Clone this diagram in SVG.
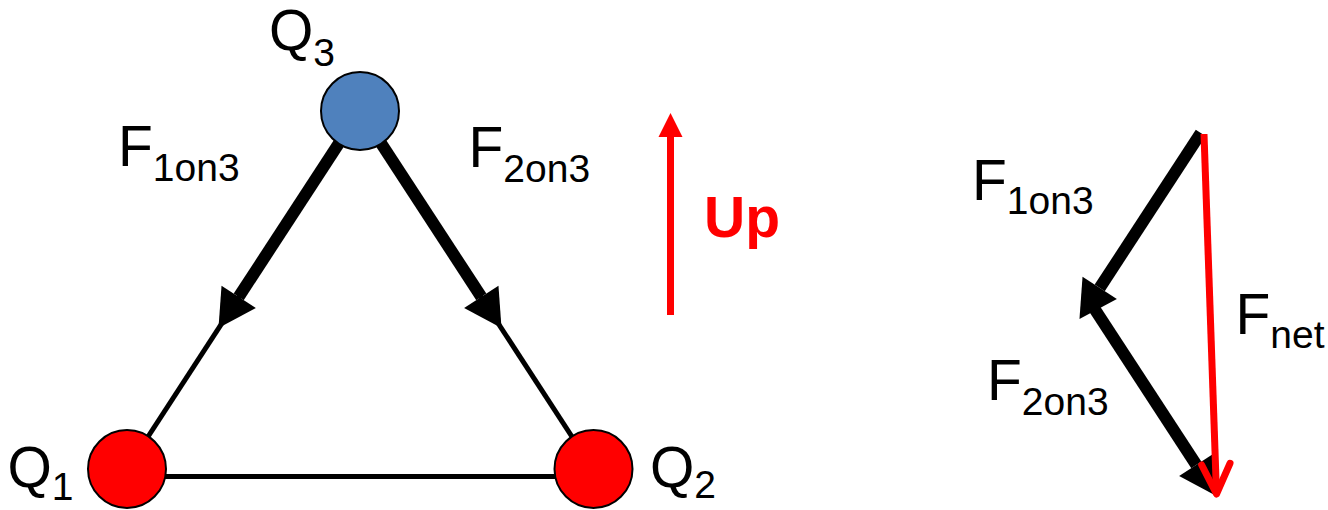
<svg xmlns="http://www.w3.org/2000/svg" width="1328" height="510" viewBox="0 0 1328 510">
<style>
text{font-family:"Liberation Sans",Arial,sans-serif;font-size:57px;fill:#000}
.sub{font-size:39px}
.up{font-weight:bold;fill:#FF0000}
.thin{stroke:#000;stroke-width:5;fill:none}
.thick{stroke:#000;stroke-width:12;fill:none;marker-end:url(#head)}
.red{stroke:#FF0000;stroke-width:7;fill:none}
.chg{stroke:#000;stroke-width:2}
</style>
<defs>
<marker id="head" markerUnits="userSpaceOnUse" viewBox="0 0 37 41" refX="0" refY="20.5" markerWidth="37" markerHeight="41" orient="auto" overflow="visible">
<path d="M0,0 L37,20.5 L0,41 Z" fill="#000"/>
</marker>
<marker id="upHead" markerUnits="userSpaceOnUse" viewBox="0 0 24 24" refX="0" refY="12" markerWidth="24" markerHeight="24" orient="auto" overflow="visible">
<path d="M0,0 L24,12 L0,24 Z" fill="#FF0000"/>
</marker>
</defs>
<g id="connectors">
<line class="thin" x1="360" y1="111" x2="127" y2="469"/>
<line class="thin" x1="360" y1="111" x2="593" y2="469"/>
<line class="thin" x1="127" y1="476.5" x2="593" y2="476.5"/>
<line class="thick" x1="360" y1="111" x2="238.7" y2="296.9"/>
<line class="thick" x1="360" y1="111" x2="481.3" y2="296.9"/>
</g>
<g id="Q3"><circle class="chg" cx="360" cy="111" r="39" fill="#4F81BD"/><text x="269" y="50">Q<tspan class="sub" dy="15.5">3</tspan></text></g>
<g id="Q1"><circle class="chg" cx="127" cy="469" r="39" fill="#FF0000"/><text x="7.5" y="487">Q<tspan class="sub" dy="13">1</tspan></text></g>
<g id="Q2"><circle class="chg" cx="593.5" cy="469" r="39" fill="#FF0000"/><text x="650" y="487">Q<tspan class="sub" dy="11">2</tspan></text></g>
<g id="labels">
<text x="118" y="166">F<tspan class="sub" dy="14.5">1on3</tspan></text>
<text x="468.5" y="167">F<tspan class="sub" dy="14.5">2on3</tspan></text>
</g>
<g id="up-arrow">
<line x1="670.5" y1="315" x2="670.5" y2="137" stroke="#FF0000" stroke-width="7" marker-end="url(#upHead)"/>
<text class="up" x="704" y="236.5">Up</text>
</g>
<g id="vector-sum">
<line class="thick" x1="1200.8" y1="133" x2="1099.7" y2="287.9"/>
<line class="thick" x1="1092" y1="305" x2="1196.3" y2="464.9"/>
<line class="red" x1="1204" y1="134" x2="1216.5" y2="494"/>
<polyline class="red" points="1201.7,465 1216.5,494 1230,463.3" stroke-linecap="round" stroke-linejoin="round"/>
<text x="972" y="199.5">F<tspan class="sub" dy="14">1on3</tspan></text>
<text x="987" y="400">F<tspan class="sub" dy="15">2on3</tspan></text>
<text x="1235.5" y="333.5">F<tspan class="sub" dy="14">net</tspan></text>
</g>
</svg>
